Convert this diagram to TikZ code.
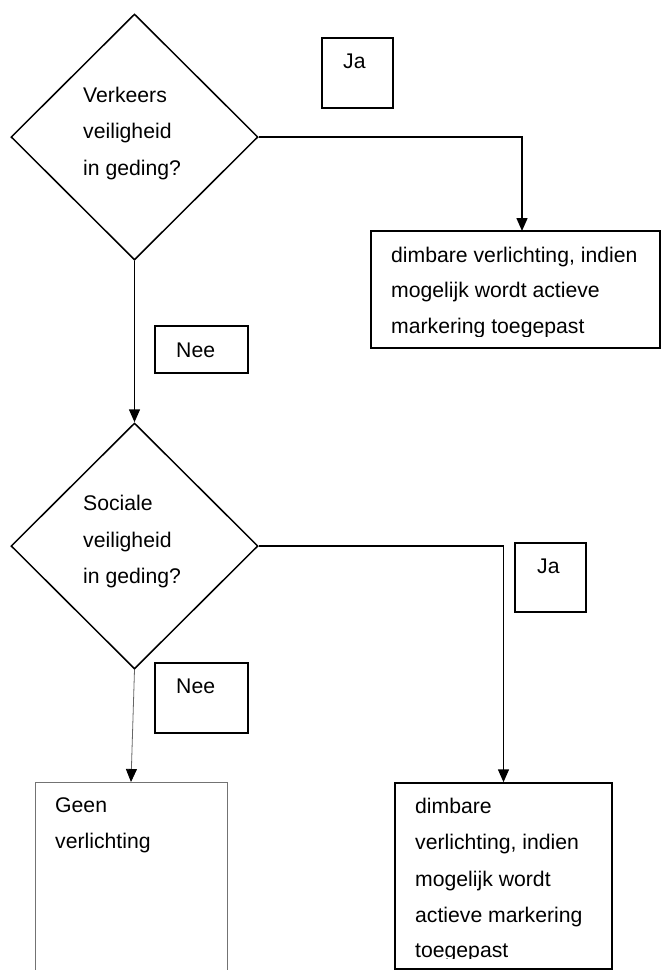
\documentclass[tikz,border=0pt]{standalone}
\usepackage{fontspec}
\setmainfont{Liberation Sans}
\usetikzlibrary{shapes.geometric,arrows.meta}
\tikzset{
  dia/.style={diamond,draw,line width=1.5pt,minimum width=247pt,minimum height=246pt,inner sep=0pt},
  box/.style={draw,line width=1.5pt,inner sep=0pt,rectangle},
  lbl/.style={anchor=base west,inner sep=0pt,font=\fontsize{21.2pt}{25pt}\selectfont},
  conn/.style={line width=1.5pt,-{Triangle[width=11pt,length=13pt]}},
  thinconn/.style={line width=0.8pt,draw=black!60,-{Triangle[width=11pt,length=13pt,color=black]}},
}
\begin{document}
\begin{tikzpicture}[x=1pt,y=-1pt]
\useasboundingbox (0,0) rectangle (664,970);
% decision 1
\node[dia] (d1) at (134.5,137) {};
\node[lbl] (t1a) at (83,102) {Verkeers};
\node[lbl] (t1b) at (83,138.5) {veiligheid};
\node[lbl] (t1c) at (83,175) {in geding?};
% Ja box 1
\node[box,minimum width=71pt,minimum height=70pt] (ja1) at (357.5,73) {};
\node[lbl] (ja1t) at (343,68) {Ja};
% result box 1
\node[box,minimum width=289pt,minimum height=117pt] (r1) at (515.5,289.5) {};
\node[lbl] (r1a) at (391,262) {dimbare verlichting, indien};
\node[lbl] (r1b) at (391,297.5) {mogelijk wordt actieve};
\begin{scope}
\clip (380,300) rectangle (660,336);
\node[lbl] (r1c) at (391,333) {markering toegepast};
\end{scope}
\coordinate (in1) at (522,231);
\draw[conn] (d1.east) -| (in1);
% Nee box 1
\node[box,minimum width=93pt,minimum height=47pt] (nee1) at (201.5,349.5) {};
\node[lbl] (nee1t) at (176,357) {Nee};
% decision 2
\node[dia] (d2) at (134.5,546) {};
\draw[conn] (d1.south) -- (d2.north);
\node[lbl] (t2a) at (83,510) {Sociale};
\node[lbl] (t2b) at (83,547) {veiligheid};
\node[lbl] (t2c) at (83,583) {in geding?};
% Ja box 2
\node[box,minimum width=71pt,minimum height=69pt] (ja2) at (550.5,577.5) {};
\node[lbl] (ja2t) at (537,573) {Ja};
% result box 2
\node[box,minimum width=217pt,minimum height=186pt] (r2) at (503.5,876) {};
\node[lbl] (r2a) at (415,813) {dimbare};
\node[lbl] (r2b) at (415,849.5) {verlichting, indien};
\node[lbl] (r2c) at (415,886) {mogelijk wordt};
\node[lbl] (r2d) at (415,922) {actieve markering};
\begin{scope}
\clip (400,930) rectangle (610,958);
\node[lbl] (r2e) at (415,957) {toegepast};
\end{scope}
\draw[conn] (d2.east) -| (r2.north);
% Nee box 2
\node[box,minimum width=93pt,minimum height=70pt] (nee2) at (201.5,698) {};
\node[lbl] (nee2t) at (176,693) {Nee};
% Geen box
\node[rectangle,draw=black!55,line width=1pt,minimum width=192pt,minimum height=200pt,anchor=north] (geen) at (131,782) {};
\node[lbl] (g1) at (55,812) {Geen};
\node[lbl] (g2) at (55,848) {verlichting};
\draw[thinconn] (d2.south) -- (geen.north);
\end{tikzpicture}
\end{document}
